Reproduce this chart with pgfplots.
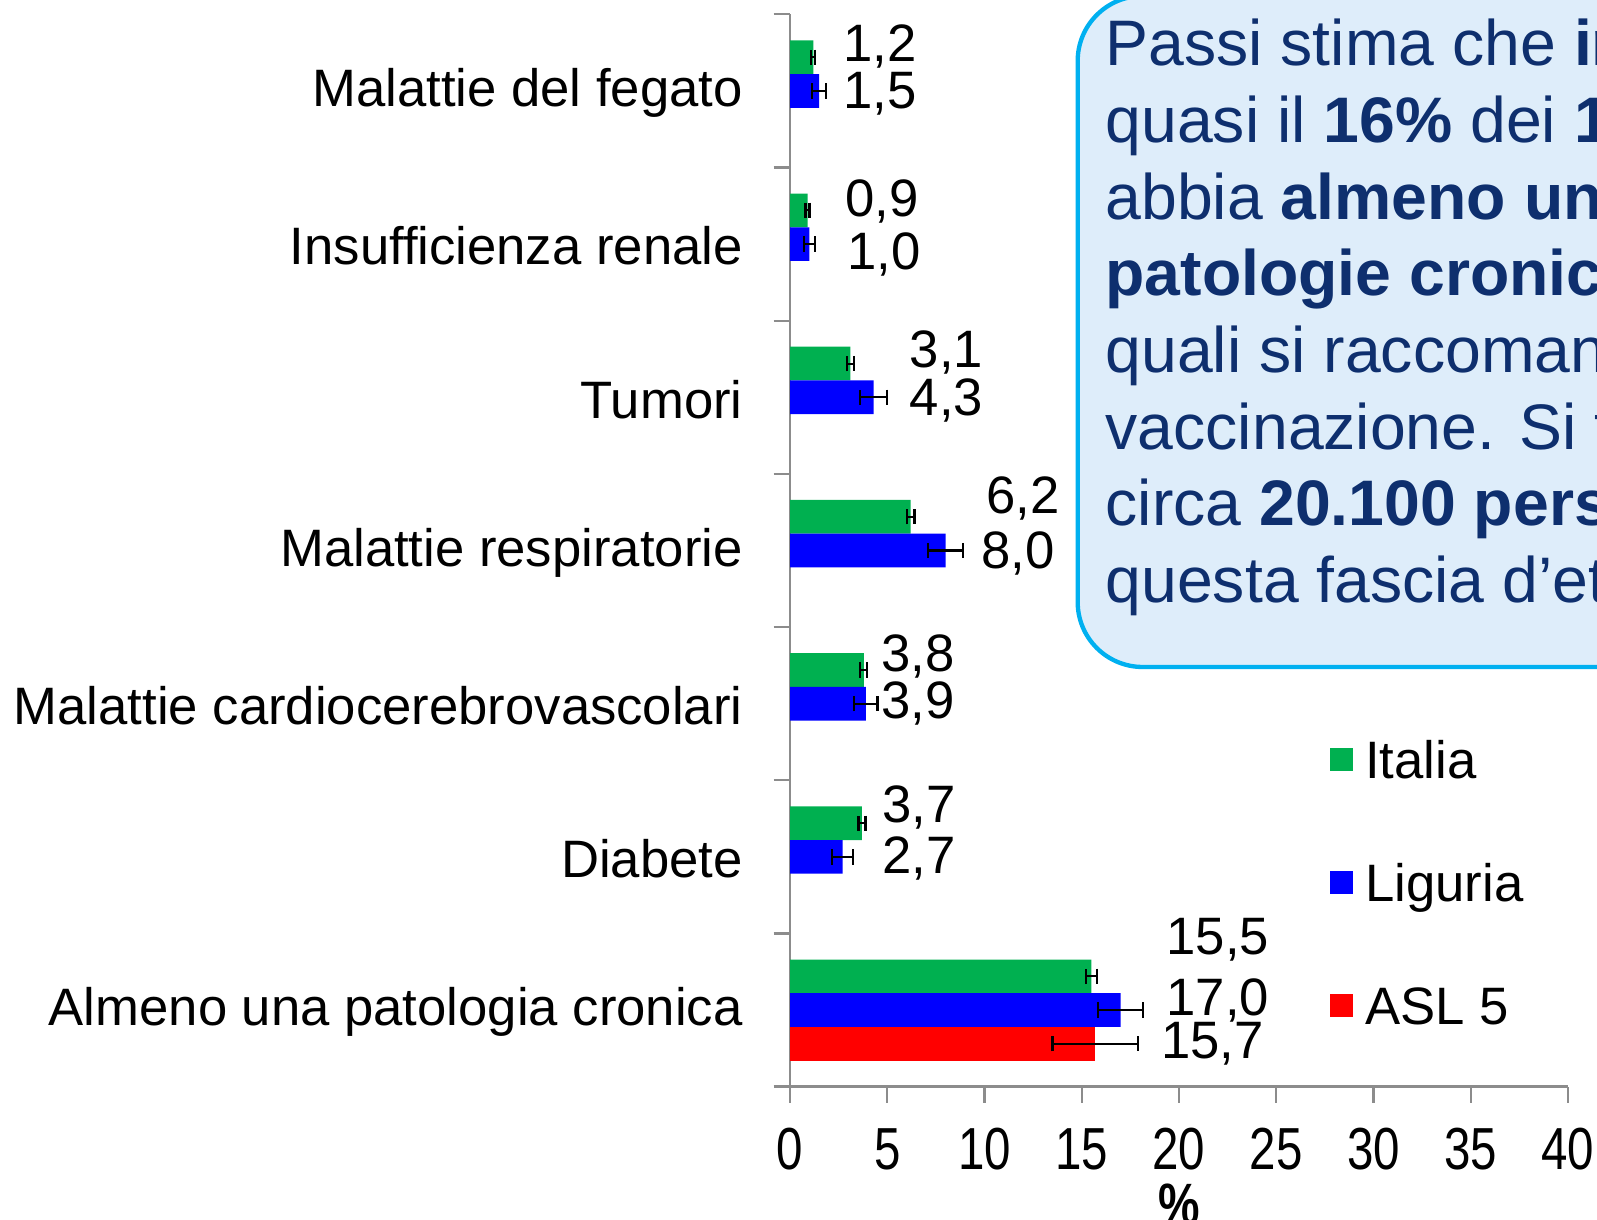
\documentclass[border=0pt]{standalone}
\usepackage{fontspec}
\setmainfont{Liberation Sans}
\newfontfamily\narrowfont[FakeStretch=0.8]{Liberation Sans}
\usepackage{pgfplots}
\usepackage{pgfplotstable}
\pgfplotsset{compat=1.18}
\definecolor{cgreen}{HTML}{00B050}
\definecolor{cblue}{HTML}{0000FF}
\definecolor{cred}{HTML}{FF0000}
\definecolor{axgray}{HTML}{8C8C8C}
\definecolor{boxline}{HTML}{00B0F0}
\definecolor{boxfill}{RGB}{222,237,250}
\definecolor{navy}{HTML}{0E2F6E}

\pgfplotstableread{
x y lab
2.72 6.29 1,2
2.72 5.98 1,5
2.83 5.28 0,9
2.93 4.93 1,0
6.13 4.29 3,1
6.13 3.98 4,3
10.05 3.34 6,2
9.79 2.98 8,0
4.66 2.31 3,8
4.66 2.00 3,9
4.71 1.32 3,7
4.71 0.99 2,7
19.32 0.46 15,5
19.32 0.06 17,0
19.06 -0.22 15,7
}\labtable

\begin{document}
\begin{tikzpicture}
% text box (cropped at the right edge)
\draw[rounded corners=19.5pt, draw=boxline, line width=1.3pt, fill=boxfill]
  (323.3pt,165.9pt) rectangle (560pt,367.2pt);
\begin{scope}[every node/.style={anchor=base west, inner sep=0pt, text=navy, font=\fontsize{19.3}{23}\selectfont}]
\node at (331.5pt,346.2pt) {Passi stima che \textbf{in ASL 5}};
\node at (331.5pt,323.2pt) {quasi il \textbf{16\%} dei \textbf{18-64enni}};
\node at (331.5pt,300.2pt) {abbia \textbf{almeno una delle}};
\node at (331.5pt,277.2pt) {\textbf{patologie croniche} per le};
\node at (331.5pt,254.2pt) {quali si raccomanda la};
\node at (331.5pt,231.2pt) {vaccinazione. Si tratta di};
\node at (331.5pt,208.2pt) {circa \textbf{20.100 persone} in};
\node at (331.5pt,185.2pt) {questa fascia d’età.};
\end{scope}

\begin{axis}[
  at={(237pt,40pt)}, anchor=south west,
  scale only axis, width=233.4pt, height=321.7pt,
  xmin=0, xmax=40, ymin=-0.5, ymax=6.5,
  clip=false,
  axis lines*=left,
  axis line style={axgray, line width=0.7pt, -},
  tick align=outside,
  major tick length=4.9pt, minor tick length=4.9pt,
  xtick={0,5,10,15,20,25,30,35,40},
  xtick style={axgray, line width=0.7pt},
  /pgf/number format/assume math mode=true,
  xticklabel style={font=\narrowfont\fontsize{17.8}{17.8}\selectfont, anchor=north, inner sep=0pt, yshift=-7.4pt},
  xlabel={\textbf{\%}},
  xlabel style={font=\narrowfont\fontsize{17.5}{17.5}\selectfont, at={(rel axis cs:0.5,0)}, anchor=center, yshift=-35.2pt},
  ytick={0,1,2,3,4,5,6},
  yticklabels={Almeno una patologia cronica, Diabete, Malattie cardiocerebrovascolari, Malattie respiratorie, Tumori, Insufficienza renale, Malattie del fegato},
  yticklabel style={font=\fontsize{15.8}{19}\selectfont, anchor=east, inner sep=0pt, xshift=-9.1pt, yshift=-0.6pt},
  minor ytick={-0.5,0.5,1.5,2.5,3.5,4.5,5.5,6.5},
  major y tick style={draw=none},
  minor y tick style={axgray, line width=0.7pt},
  legend cell align=left,
  legend style={at={(0.6928,0.324)}, anchor=north west, draw=none, fill=none,
    inner sep=0pt, row sep=21.9pt, column sep=3.7pt,
    font=\fontsize{15.8}{19}\selectfont,
    nodes={inner sep=0pt, text height=11.5pt, text depth=3.5pt}},
  legend image code/.code={\fill[#1] (0pt,-1.9pt) rectangle (7pt,5.1pt);},
  error bars/error bar style={black, line width=0.65pt},
  error bars/error mark=|,
  error bars/error mark options={black, line width=0.65pt, mark size=2.3pt},
]
% Italia (upper bar of each group)
\addplot[xbar, bar width=0.22, bar shift=0, fill=cgreen, draw=none,
  error bars/.cd, x dir=both, x explicit]
coordinates {
(15.5,0.22) +- (0.3,0)
(3.7,1.22) +- (0.18,0)
(3.8,2.22) +- (0.18,0)
(6.2,3.22) +- (0.2,0)
(3.1,4.22) +- (0.18,0)
(0.9,5.22) +- (0.1,0)
(1.2,6.22) +- (0.1,0)
};
\addlegendentry{Italia}
% Liguria (middle bar)
\addplot[xbar, bar width=0.22, bar shift=0, fill=cblue, draw=none,
  error bars/.cd, x dir=both, x explicit]
coordinates {
(17.0,0) +- (1.15,0)
(2.7,1) +- (0.55,0)
(3.9,2) +- (0.6,0)
(8.0,3) +- (0.9,0)
(4.3,4) +- (0.7,0)
(1.0,5) +- (0.3,0)
(1.5,6) +- (0.35,0)
};
\addlegendentry{Liguria}
% ASL 5 (lower bar)
\addplot[xbar, bar width=0.22, bar shift=0, fill=cred, draw=none,
  error bars/.cd, x dir=both, x explicit]
coordinates {
(15.7,-0.22) +- (2.2,0)
};
\addlegendentry{ASL 5}
\addplot[draw=none, mark=none, forget plot, nodes near coords,
  point meta=explicit symbolic,
  nodes near coords style={anchor=west, inner sep=0pt, font=\fontsize{15.8}{19}\selectfont}]
  table[x=x, y=y, meta=lab] {\labtable};
\end{axis}
\pgfresetboundingbox
\useasboundingbox (0,0) rectangle (479.1pt,366pt);
\end{tikzpicture}
\end{document}
